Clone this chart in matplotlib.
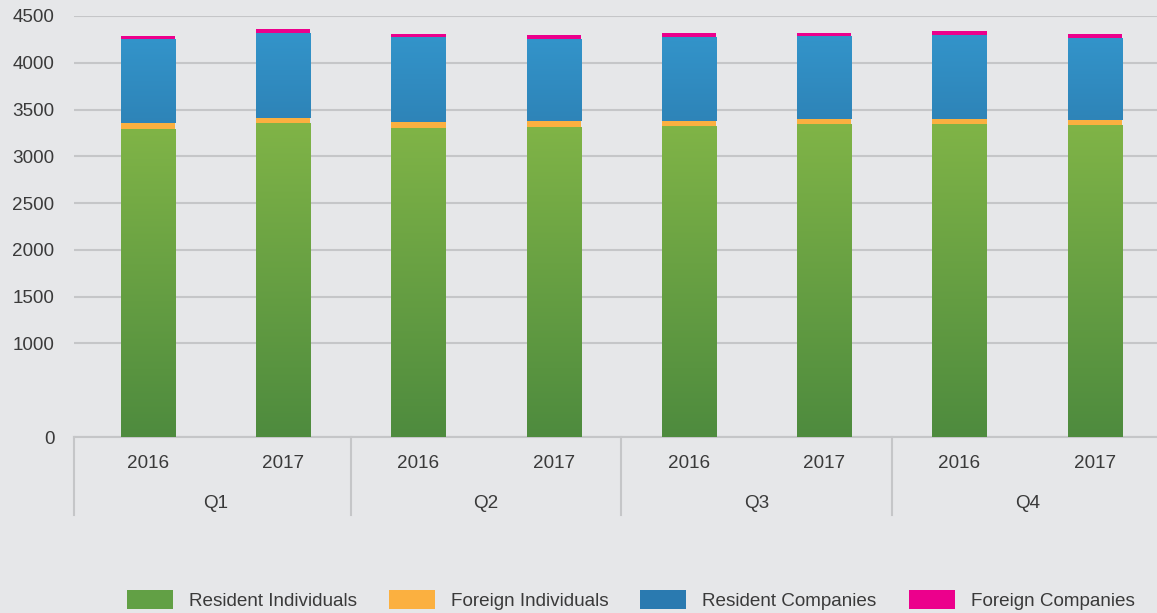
import numpy as np
import matplotlib
matplotlib.use("Agg")
import matplotlib.pyplot as plt
from matplotlib.colors import LinearSegmentedColormap
from matplotlib.patches import Patch

# ── Data ──────────────────────────────────────────────────────────────────────
quarters = ["Q1", "Q2", "Q3", "Q4"]
years = ["2016", "2017"]

resident_individuals = [3297, 3361, 3308, 3318, 3321, 3342, 3350, 3340]
foreign_individuals  = [60, 52, 60, 56, 57, 61, 53, 52]
resident_companies   = [902, 909, 909, 885, 902, 885, 898, 874]
foreign_companies    = [32, 40, 35, 35, 35, 31, 39, 39]

series_names = ["Resident Individuals", "Foreign Individuals",
                "Resident Companies", "Foreign Companies"]

y_ticks = [0, 1000, 1500, 2000, 2500, 3000, 3500, 4000, 4500]

# ── Style ─────────────────────────────────────────────────────────────────────
BG = "#e6e7e9"
GRID = "#c5c6c8"
TXT = "#3a3a3a"
# (top, bottom) gradient colours per series
GRAD = [("#80b447", "#4e8b3e"), ("#fbb040", "#fbb040"),
        ("#3394ca", "#2e84b8"), ("#ec008c", "#ec008c")]
LEG = ["#62a045", "#fbb040", "#2a7ab0", "#ec008c"]

plt.rcParams["font.family"] = ["Liberation Sans", "DejaVu Sans"]
FS = 13.6

fig = plt.figure(figsize=(11.57, 6.13), dpi=100)
fig.patch.set_facecolor(BG)
ax = fig.add_axes([74 / 1157, 176 / 613, 1 - 74 / 1157, 421 / 613])
ax.set_facecolor(BG)

labels = [y for q in quarters for y in years]
x = np.arange(len(labels))
width = 0.4

stack = [resident_individuals, foreign_individuals, resident_companies, foreign_companies]
bottom = np.zeros(len(x))
for vals, (c_top, c_bot) in zip(stack, GRAD):
    vals = np.array(vals, dtype=float)
    bars = ax.bar(x, vals, width, bottom=bottom, color=c_bot, linewidth=0, zorder=3)
    if c_top != c_bot:
        cmap = LinearSegmentedColormap.from_list("g", [c_bot, c_top])
        grad = np.linspace(0, 1, 256).reshape(-1, 1)
        for b in bars:
            x0, y0 = b.get_x(), b.get_y()
            x1, y1 = x0 + b.get_width(), y0 + b.get_height()
            im = ax.imshow(grad, cmap=cmap, origin="lower", aspect="auto",
                           extent=[x0, x1, y0, y1], zorder=3.5)
            im.set_clip_path(b)
    bottom += vals

ax.set_xlim(-0.547, 7.46)
ax.set_ylim(0, 4500)

# axes styling
for side in ("top", "right", "left"):
    ax.spines[side].set_visible(False)
ax.spines["bottom"].set_color(GRID)
ax.spines["bottom"].set_linewidth(1.5)
ax.set_yticks(y_ticks)
ax.yaxis.grid(True, color=GRID, linewidth=1.5, zorder=0)
ax.set_axisbelow(True)
ax.tick_params(axis="y", length=0, pad=14, labelsize=FS, labelcolor=TXT)
ax.set_xticks(x, labels)
ax.tick_params(axis="x", length=0, pad=13, labelsize=FS, labelcolor=TXT)

# quarter labels and group separators
tr = ax.get_xaxis_transform()
for i, q in enumerate(quarters):
    ax.text(2 * i + 0.5, -0.158, q, transform=tr, ha="center", va="center",
            fontsize=FS, color=TXT)
for sx in [-0.547, 1.5, 3.5, 5.5]:
    ax.plot([sx, sx], [0, -0.185], transform=tr, color=GRID, linewidth=1.5,
            clip_on=False)

# legend
handles = [Patch(facecolor=c, edgecolor="none") for c in LEG]
fig.legend(handles, series_names, loc="center", bbox_to_anchor=(0.545, 1 - 600 / 613),
           ncol=4, frameon=False, fontsize=FS, labelcolor=TXT,
           handlelength=2.43, handleheight=1.2, handletextpad=0.85,
           columnspacing=1.7)

fig.savefig("out.png", dpi=100, facecolor=fig.get_facecolor())
